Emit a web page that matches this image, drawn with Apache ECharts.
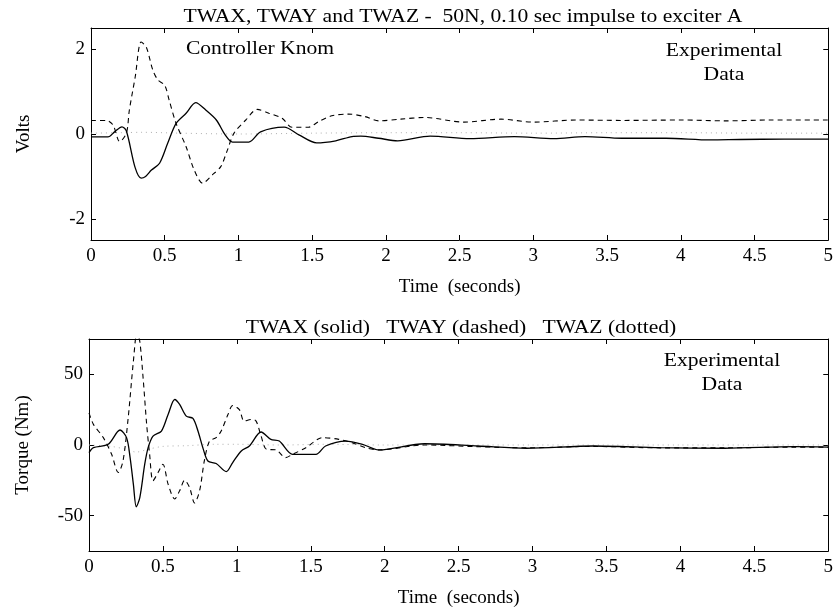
<!DOCTYPE html>
<html>
<head>
<meta charset="utf-8">
<script src="https://cdn.jsdelivr.net/npm/echarts/dist/echarts.min.js"></script>
<style>
html,body{margin:0;padding:0;background:#fff;}
#chart{width:836px;height:610px;}
</style>
</head>
<body>
<div id="chart"></div>
<script>
// ---- Top panel (Volts) ----
const tTopX = [0, 0.115, 0.16, 0.21, 0.24, 0.3, 0.34, 0.37, 0.41, 0.465, 0.52, 0.577, 0.645, 0.71, 0.78, 0.85, 0.91, 0.96, 1.07, 1.15, 1.31, 1.41, 1.53, 1.66, 1.77, 1.83, 1.95, 2.08, 2.3, 2.57, 2.87, 3.14, 3.35, 3.6, 3.9, 4.2, 4.4, 4.7, 5];
const vTopX = [-0.07, -0.07, 0.05, 0.17, 0.07, -0.8, -1.04, -1.0, -0.85, -0.69, -0.22, 0.25, 0.49, 0.74, 0.56, 0.33, -0.02, -0.19, -0.19, 0.05, 0.16, -0.02, -0.21, -0.16, -0.06, -0.05, -0.1, -0.16, -0.05, -0.11, -0.06, -0.11, -0.06, -0.1, -0.1, -0.14, -0.13, -0.12, -0.12];

const tTopY = [0, 0.105, 0.15, 0.195, 0.24, 0.26, 0.3, 0.34, 0.375, 0.42, 0.455, 0.5, 0.53, 0.577, 0.645, 0.7, 0.757, 0.824, 0.88, 0.925, 0.97, 1.05, 1.127, 1.206, 1.296, 1.363, 1.475, 1.543, 1.633, 1.745, 1.858, 1.95, 2.1, 2.26, 2.53, 2.78, 3.0, 3.29, 3.6, 4.0, 4.3, 4.6, 5];
const vTopY = [0.32, 0.32, 0.21, -0.18, 0.02, 0.56, 1.35, 2.17, 2.05, 1.5, 1.27, 1.15, 0.8, 0.25, -0.3, -0.85, -1.16, -0.96, -0.77, -0.38, 0.02, 0.33, 0.58, 0.49, 0.37, 0.16, 0.16, 0.29, 0.43, 0.47, 0.41, 0.31, 0.35, 0.39, 0.28, 0.35, 0.28, 0.33, 0.32, 0.33, 0.31, 0.33, 0.33];

const tTopZ = [0, 0.2, 0.35, 0.6, 1.0, 1.5, 2.0, 2.5, 3.0, 3.5, 4.0, 4.5, 5];
const vTopZ = [0.02, 0.03, 0.04, 0.02, 0.0, 0.02, 0.03, 0.03, 0.02, 0.03, 0.03, 0.02, 0.02];

// ---- Bottom panel (Torque) ----
const tBotX = [0, 0.03, 0.13, 0.21, 0.254, 0.278, 0.3, 0.32, 0.344, 0.377, 0.4, 0.433, 0.49, 0.535, 0.58, 0.613, 0.658, 0.703, 0.737, 0.77, 0.804, 0.86, 0.928, 0.972, 1.03, 1.085, 1.164, 1.23, 1.287, 1.377, 1.43, 1.535, 1.6, 1.737, 1.85, 1.96, 2.27, 2.63, 2.96, 3.41, 3.86, 4.3, 4.77, 5];
const vBotX = [-5.4, -1.9, 0.5, 10.6, 5.2, -8.9, -27.7, -43.7, -37, -13.6, -1.9, 6.3, 9.9, 21.6, 32.2, 28.7, 20.4, 18.8, 9.9, -1.9, -11.3, -13.1, -18.8, -12.4, -4.2, -0.7, 9.2, 4.0, 2.8, -6.6, -6.6, -6.6, -0.7, 2.8, 0.5, -3.5, 0.9, -0.7, -2.3, -0.7, -1.9, -2.3, -1.2, -1.5];

const tBotY = [0, 0.03, 0.097, 0.153, 0.198, 0.23, 0.265, 0.3, 0.325, 0.344, 0.366, 0.39, 0.41, 0.433, 0.467, 0.5, 0.535, 0.58, 0.613, 0.647, 0.68, 0.714, 0.748, 0.78, 0.815, 0.86, 0.894, 0.94, 0.972, 1.017, 1.05, 1.096, 1.13, 1.164, 1.2, 1.265, 1.33, 1.377, 1.467, 1.58, 1.69, 1.78, 1.87, 1.96, 2.27, 2.63, 2.96, 3.41, 3.86, 4.3, 4.77, 5];
const vBotY = [22.7, 14.6, 5.2, -6.6, -19.5, -11.3, 19.2, 59, 80, 73, 47.4, 14.6, -6.6, -25.3, -19.5, -13.6, -27.7, -38.2, -32.4, -24.9, -30, -41, -32.4, -11.3, 2.8, 5.2, 9.9, 21.6, 28, 25, 16.9, 18.1, 16.9, 6.3, -3, -3.5, -8.9, -6.6, -1.9, 5.2, 4.0, 1.6, -1.9, -3.5, 0, -1.2, -2, -1, -2, -2, -1.5, -1.5];

const tBotZ = [0, 0.15, 0.25, 0.32, 0.4, 0.5, 0.66, 0.85, 1.0, 1.3, 1.6, 2, 2.5, 3, 3.5, 4, 4.5, 5];
const vBotZ = [0, -1, -3, -5, -3, -1, -0.5, 0.5, 0.5, 0, 0.5, 0, 0, 0, 0, 0, 0, 0];

// ---- Ticks and texts ----
const yTicksTop = [-2, 0, 2];
const yTicksBot = [-50, 0, 50];
const titleTop = 'TWAX, TWAY and TWAZ -  50N, 0.10 sec impulse to exciter A';
const titleBot = 'TWAX (solid)   TWAY (dashed)   TWAZ (dotted)';
const xName = 'Time  (seconds)';
const yNameTop = 'Volts';
const yNameBot = 'Torque (Nm)';

function zip(t, v) { return t.map((x, i) => [x, v[i]]); }

const FF = 'Liberation Serif';
const black = '#000';
const lineSty = { color: black, width: 1 };
const txt = { color: black, fontFamily: FF, fontSize: 19 };

function xAx(grid, pos, withLabels) {
  return {
    type: 'value', gridIndex: grid, position: pos, min: 0, max: 5, interval: 0.5,
    axisLine: { show: true, onZero: false, lineStyle: lineSty },
    axisTick: { show: true, inside: true, length: 5, lineStyle: lineSty },
    axisLabel: Object.assign({ show: withLabels, margin: 7 }, txt),
    splitLine: { show: false },
    name: withLabels ? xName : '', nameLocation: 'middle', nameGap: 38,
    nameTextStyle: txt
  };
}
function yAx(grid, pos, withLabels, lim, ticks, name, gap) {
  return {
    type: 'value', gridIndex: grid, position: pos, min: -lim, max: lim,
    axisLine: { show: true, onZero: false, lineStyle: lineSty },
    axisTick: { show: true, inside: true, length: 5, lineStyle: lineSty, customValues: ticks },
    axisLabel: Object.assign({ show: withLabels, margin: 6, customValues: ticks }, txt),
    splitLine: { show: false },
    name: withLabels ? name : '', nameLocation: 'middle', nameGap: gap,
    nameTextStyle: txt
  };
}

function ser(name, data, xi, yi, style) {
  return {
    name: name, type: 'line', data: data, xAxisIndex: xi, yAxisIndex: yi,
    showSymbol: false, symbol: 'none', smooth: 0.3, clip: true,
    lineStyle: style, silent: true, animation: false
  };
}
const solid = { color: '#000', width: 1.3, type: 'solid' };
const dashed = { color: '#000', width: 1.1, type: [5, 4] };
const dotted = { color: '#b0b0b0', width: 1, type: [1, 4] };

function label(text, x, y) {
  return {
    type: 'text', x: x, y: y, scaleX: 1.2, scaleY: 1, silent: true,
    style: { text: text, fill: black, fontFamily: FF, fontSize: 18, textAlign: 'center', textVerticalAlign: 'middle' }
  };
}

const chart = echarts.init(document.getElementById('chart'), null, { renderer: 'canvas' });
chart.setOption({
  animation: false,
  backgroundColor: '#fff',
  grid: [
    { left: 91, right: 3, top: 28, height: 212 },
    { left: 89, right: 4, top: 339, height: 212 }
  ],
  xAxis: [xAx(0, 'bottom', true), xAx(0, 'top', false), xAx(1, 'bottom', true), xAx(1, 'top', false)],
  yAxis: [
    yAx(0, 'left', true, 2.5, yTicksTop, yNameTop, 57),
    yAx(0, 'right', false, 2.5, yTicksTop, '', 0),
    yAx(1, 'left', true, 75, yTicksBot, yNameBot, 56),
    yAx(1, 'right', false, 75, yTicksBot, '', 0)
  ],
  graphic: [
    label(titleTop, 463, 17),
    label(titleBot, 461, 328),
    label('Controller Knom', 260, 49),
    label('Experimental', 724, 51),
    label('Data', 724, 75),
    label('Experimental', 722, 361),
    label('Data', 722, 385)
  ],
  series: [
    ser('TWAZ', zip(tTopZ, vTopZ), 0, 0, dotted),
    ser('TWAY', zip(tTopY, vTopY), 0, 0, dashed),
    ser('TWAX', zip(tTopX, vTopX), 0, 0, solid),
    ser('TWAZ', zip(tBotZ, vBotZ), 2, 2, dotted),
    ser('TWAY', zip(tBotY, vBotY), 2, 2, dashed),
    ser('TWAX', zip(tBotX, vBotX), 2, 2, solid)
  ]
});
</script>
</body>
</html>
